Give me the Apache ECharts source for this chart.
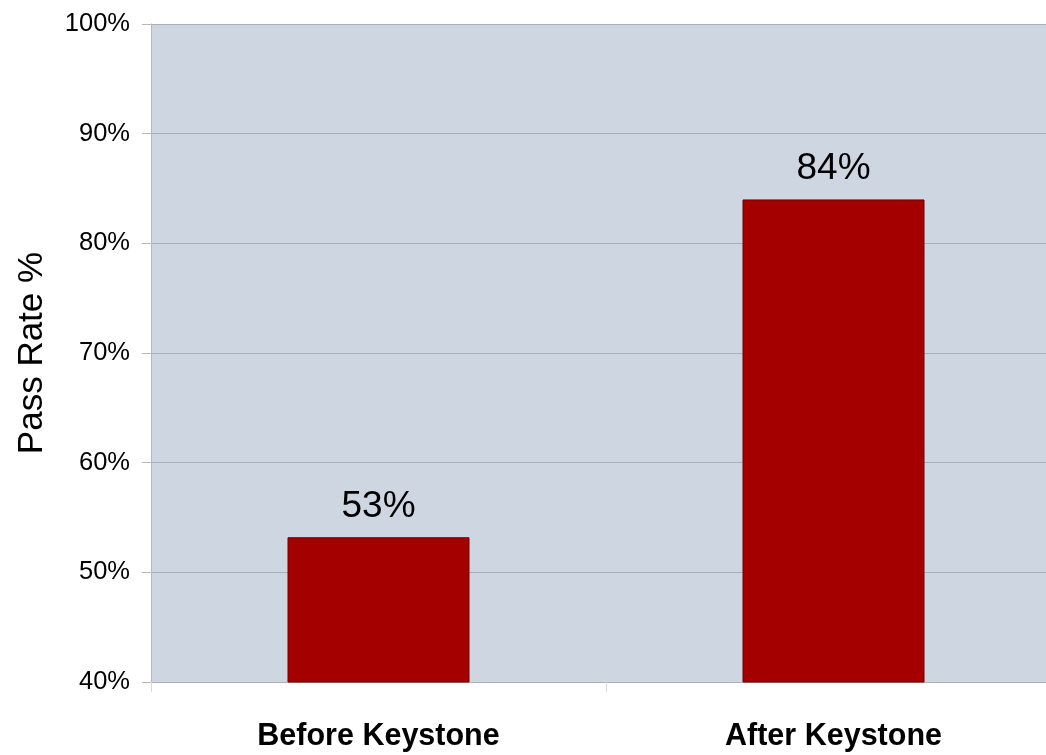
<!DOCTYPE html>
<html>
<head>
<meta charset="utf-8">
<script src="https://cdn.jsdelivr.net/npm/echarts@6/dist/echarts.min.js"></script>
<style>
html, body { margin: 0; padding: 0; background: #fff; overflow: hidden; }
#chart { width: 1061px; height: 755px; }
</style>
</head>
<body>
<div id="chart"></div>
<script>
const categories = ['Before Keystone', 'After Keystone'];
const passRates = [53.2, 84];
const yTicks = [40, 50, 60, 70, 80, 90, 100];

// plot runs past the right edge of the window, like the original
const chart = echarts.init(document.getElementById('chart'));
chart.setOption({
    animation: false,
    grid: {
        left: 151,
        right: 0,
        top: 24,
        bottom: 73,
        outerBoundsMode: 'none',
        containLabel: false,
        show: true,
        backgroundColor: '#CED6E1',
        borderWidth: 0
    },
    xAxis: {
        type: 'category',
        data: categories,
        axisLine: { show: true, lineStyle: { color: '#B0B0B0', width: 1 } },
        axisTick: { show: true, length: 10, lineStyle: { color: '#D8D8D8' } },
        axisLabel: {
            margin: 39,
            color: '#000',
            fontFamily: 'Liberation Sans, Arial',
            fontWeight: 'bold',
            fontSize: 30.5
        }
    },
    yAxis: {
        type: 'value',
        min: yTicks[0],
        max: yTicks[yTicks.length - 1],
        interval: 10,
        name: 'Pass Rate %',
        nameLocation: 'middle',
        nameGap: 101,
        nameRotate: 90,
        nameTextStyle: {
            color: '#000',
            fontFamily: 'Liberation Sans, Arial',
            fontSize: 35
        },
        axisLine: { show: true, lineStyle: { color: '#B8B8B8' } },
        axisTick: { show: true, length: 9, lineStyle: { color: '#B8B8B8' } },
        splitLine: { show: true, lineStyle: { color: '#A9AFB9', width: 1 } },
        axisLabel: {
            margin: 21,
            color: '#000',
            fontFamily: 'Liberation Sans, Arial',
            fontSize: 25.5,
            formatter: v => v + '%'
        }
    },
    series: [{
        type: 'bar',
        data: passRates,
        barWidth: '40%',
        itemStyle: { color: '#A50000', borderColor: '#6E0000', borderWidth: 1 },
        label: {
            show: true,
            position: 'top',
            distance: 12,
            color: '#000',
            fontFamily: 'Liberation Sans, Arial',
            fontSize: 37,
            formatter: p => Math.round(p.value) + '%'
        }
    }]
});
</script>
</body>
</html>
